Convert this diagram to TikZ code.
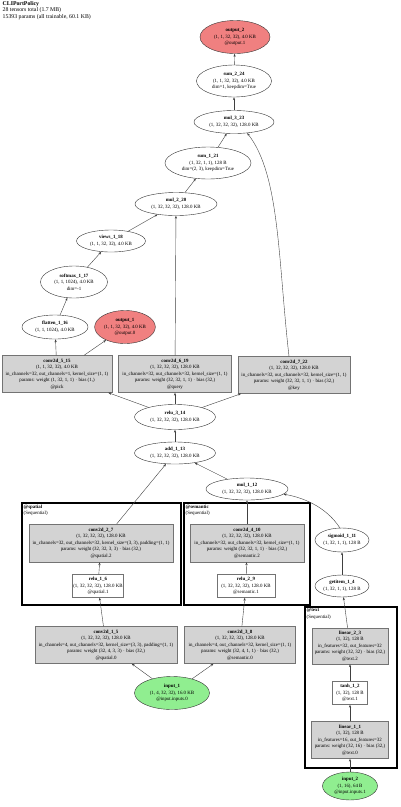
\documentclass[tikz,border=0pt]{standalone}
\usepackage{fontspec}
\setmainfont{Liberation Serif}
\usetikzlibrary{arrows.meta, shapes.geometric}
\definecolor{outred}{RGB}{240,128,128}
\definecolor{ingreen}{RGB}{144,238,144}
\definecolor{layergrey}{RGB}{211,211,211}
\newcommand{\tinyfont}{\fontsize{4.9}{6.5}\selectfont}
\newcommand{\headfont}{\fontsize{5.8}{6.2}\selectfont}

\begin{document}
\begin{tikzpicture}[x=1pt, y=-1pt,
  every node/.style={font=\tinyfont, align=center, inner sep=0.5pt},
  sz/.style 2 args={minimum width=#1, minimum height=#2},
  op/.style={ellipse, draw=black!80, fill=white, line width=0.4pt},
  outop/.style={op, fill=outred},
  inop/.style={op, fill=ingreen},
  layer/.style={rectangle, draw=black!55, fill=layergrey, inner sep=0.5pt},
  unit/.style={rectangle, draw=black!55, fill=white, inner sep=1pt},
  cluster/.style={draw=black, line width=1.6pt},
  flow/.style={draw=black!75, line width=0.4pt, -{Stealth[length=3pt, width=2.2pt]}}
]
  \useasboundingbox (0,0) rectangle (400,807);

  \node[anchor=north west, align=left, font=\headfont] (title) at (2,1)
    {\textbf{CLIPortPolicy}\\28 tensors total (1.7 MB)\\15393 params (all trainable, 60.1 KB)};

  % clusters
  \draw[cluster] (22,503) rectangle (181,605);
  \draw[cluster] (184,503) rectangle (310,605);
  \draw[cluster] (305,607) rectangle (397,768);
  \node[anchor=north west, align=left] (spatiallbl) at (23,504) {\textbf{@spatial}\\(Sequential)};
  \node[anchor=north west, align=left] (semlbl) at (185,504) {\textbf{@semantic}\\(Sequential)};
  \node[anchor=north west, align=left] (textlbl) at (306,608) {\textbf{@text}\\(Sequential)};

  % head
  \node[outop, sz={70}{33}] (out2) at (235,37) {\textbf{output\_2}\\(1, 1, 32, 32), 4.0 KB\\@output.1};
  \node[op, sz={75}{32}] (sum24) at (234,81) {\textbf{sum\_2\_24}\\(1, 1, 32, 32), 4.0 KB\\dim=1, keepdim=True};
  \node[op, sz={80}{23}] (mul23) at (234,122) {\textbf{mul\_3\_23}\\(1, 32, 32, 32), 128.0 KB};
  \node[op, sz={86}{32}] (sum21) at (208,163) {\textbf{sum\_1\_21}\\(1, 32, 1, 1), 128 B\\dim=(2, 3), keepdim=True};
  \node[op, sz={82}{23}] (mul20) at (176,204) {\textbf{mul\_2\_20}\\(1, 32, 32, 32), 128.0 KB};
  \node[op, sz={69}{22}] (views18) at (111,241) {\textbf{views\_1\_18}\\(1, 1, 32, 32), 4.0 KB};
  \node[op, sz={67}{32}] (softmax17) at (74,282) {\textbf{softmax\_1\_17}\\(1, 1, 1024), 4.0 KB\\dim=-1};
  \node[op, sz={66}{24}] (flatten16) at (55,327) {\textbf{flatten\_1\_16}\\(1, 1, 1024), 4.0 KB};
  \node[outop, sz={60}{33}] (out1) at (125,327) {\textbf{output\_1}\\(1, 1, 32, 32), 4.0 KB\\@output.0};

  \node[layer, sz={110}{37}] (pick) at (57,374) {\textbf{conv2d\_5\_15}\\(1, 1, 32, 32), 4.0 KB\\in\_channels=32, out\_channels=1, kernel\_size=(1, 1)\\params: weight (1, 32, 1, 1) $\cdot$ bias (1,)\\@pick};
  \node[layer, sz={113}{37}] (query) at (175,374) {\textbf{conv2d\_6\_19}\\(1, 32, 32, 32), 128.0 KB\\in\_channels=32, out\_channels=32, kernel\_size=(1, 1)\\params: weight (32, 32, 1, 1) $\cdot$ bias (32,)\\@query};
  \node[layer, sz={112}{37}] (key) at (294,375) {\textbf{conv2d\_7\_22}\\(1, 32, 32, 32), 128.0 KB\\in\_channels=32, out\_channels=32, kernel\_size=(1, 1)\\params: weight (32, 32, 1, 1) $\cdot$ bias (32,)\\@key};

  \node[op, sz={81}{25}] (relu14) at (175,417) {\textbf{relu\_3\_14}\\(1, 32, 32, 32), 128.0 KB};
  \node[op, sz={81}{22}] (add13) at (175,453) {\textbf{add\_1\_13}\\(1, 32, 32, 32), 128.0 KB};
  \node[op, sz={82}{22}] (mul12) at (247,489) {\textbf{mul\_1\_12}\\(1, 32, 32, 32), 128.0 KB};

  % spatial stream
  \node[layer, sz={144}{38}] (sp2) at (101,543) {\textbf{conv2d\_2\_7}\\(1, 32, 32, 32), 128.0 KB\\in\_channels=32, out\_channels=32, kernel\_size=(3, 3), padding=(1, 1)\\params: weight (32, 32, 3, 3) $\cdot$ bias (32,)\\@spatial.2};
  \node[unit, sz={49}{23}] (sp1) at (98,586) {\textbf{relu\_1\_6}\\(1, 32, 32, 32), 128.0 KB\\@spatial.1};
  \node[layer, sz={142}{37}] (sp0) at (106,645) {\textbf{conv2d\_1\_5}\\(1, 32, 32, 32), 128.0 KB\\in\_channels=4, out\_channels=32, kernel\_size=(3, 3), padding=(1, 1)\\params: weight (32, 4, 3, 3) $\cdot$ bias (32,)\\@spatial.0};

  % semantic stream
  \node[layer, sz={114}{38}] (sem2) at (247,543) {\textbf{conv2d\_4\_10}\\(1, 32, 32, 32), 128.0 KB\\in\_channels=32, out\_channels=32, kernel\_size=(1, 1)\\params: weight (32, 32, 1, 1) $\cdot$ bias (32,)\\@semantic.2};
  \node[unit, sz={58}{23}] (sem1) at (246,586) {\textbf{relu\_2\_9}\\(1, 32, 32, 32), 128.0 KB\\@semantic.1};
  \node[layer, sz={111}{37}] (sem0) at (240,645) {\textbf{conv2d\_3\_8}\\(1, 32, 32, 32), 128.0 KB\\in\_channels=4, out\_channels=32, kernel\_size=(1, 1)\\params: weight (32, 4, 1, 1) $\cdot$ bias (32,)\\@semantic.0};
  \node[inop, sz={75}{33}] (in1) at (172,693) {\textbf{input\_1}\\(1, 4, 32, 32), 16.0 KB\\@input.inputs.0};

  % text stream
  \node[op, sz={50}{24}] (sigmoid11) at (342,540) {\textbf{sigmoid\_1\_11}\\(1, 32, 1, 1), 128 B};
  \node[op, sz={50}{22}] (getitem4) at (342,586) {\textbf{getitem\_1\_4}\\(1, 32, 1, 1), 128 B};
  \node[layer, sz={76}{36}] (txt2) at (350,646) {\textbf{linear\_2\_3}\\(1, 32), 128 B\\in\_features=32, out\_features=32\\params: weight (32, 32) $\cdot$ bias (32,)\\@text.2};
  \node[unit, sz={35}{23}] (txt1) at (350,693) {\textbf{tanh\_1\_2}\\(1, 32), 128 B\\@text.1};
  \node[layer, sz={77}{37}] (txt0) at (350,740) {\textbf{linear\_1\_1}\\(1, 32), 128 B\\in\_features=16, out\_features=32\\params: weight (32, 16) $\cdot$ bias (32,)\\@text.0};
  \node[inop, sz={55}{28}] (in2) at (350,786) {\textbf{input\_2}\\(1, 16), 64 B\\@input.inputs.1};

  % edges
  \draw[flow] (in1) -- (sp0);
  \draw[flow] (in1) -- (sem0);
  \draw[flow] (sp0) -- (sp1);
  \draw[flow] (sp1) -- (sp2);
  \draw[flow] (sem0) -- (sem1);
  \draw[flow] (sem1) -- (sem2);
  \draw[flow] (in2) -- (txt0);
  \draw[flow] (txt0) -- (txt1);
  \draw[flow] (txt1) -- (txt2);
  \draw[flow] (txt2) -- (getitem4);
  \draw[flow] (getitem4) -- (sigmoid11);
  \draw[flow] (sigmoid11.100) .. controls (325,505) and (300,497) .. (mul12.-8);
  \draw[flow] (sem2) -- (mul12);
  \draw[flow] (sp2) -- (add13);
  \draw[flow] (mul12) -- (add13);
  \draw[flow] (add13) -- (relu14);
  \draw[flow] (relu14) -- (pick);
  \draw[flow] (relu14) -- (query);
  \draw[flow] (relu14) -- (key);
  \draw[flow] (pick) -- (flatten16);
  \draw[flow] (pick) -- (out1);
  \draw[flow] (flatten16) -- (softmax17);
  \draw[flow] (softmax17) -- (views18);
  \draw[flow] (views18) -- (mul20);
  \draw[flow] (query) -- (mul20);
  \draw[flow] (mul20) -- (sum21);
  \draw[flow] (sum21) -- (mul23);
  \draw[flow] ([xshift=-5pt]key.north) .. controls (278,260) and (280,175) .. (mul23.-40);
  \draw[flow] (mul23) -- (sum24);
  \draw[flow] (sum24) -- (out2);
\end{tikzpicture}
\end{document}
